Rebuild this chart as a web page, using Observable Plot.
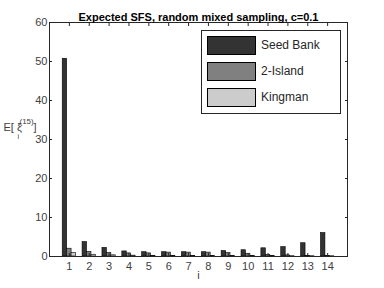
<!DOCTYPE html>
<html><head><meta charset="utf-8">
<script src="https://cdn.jsdelivr.net/npm/d3@7"></script>
<script src="https://cdn.jsdelivr.net/npm/@observablehq/plot@0.6"></script>
<style>
body{margin:0;background:#fff;}
#wrap{position:relative;width:384px;height:288px;font-family:"Liberation Sans",Arial,sans-serif;}
#legend{position:absolute;left:201px;top:30px;width:138px;height:82px;border:1px solid #262626;background:#fff;}
.item{position:absolute;left:5px;width:49px;height:19px;border:1px solid #000;box-sizing:border-box;}
.lab{position:absolute;left:59px;font-size:12px;color:#262626;line-height:19px;}
</style></head>
<body><div id="wrap"></div>
<script>
const categories = [1,2,3,4,5,6,7,8,9,10,11,12,13,14];
const seriesNames = ["Seed Bank","2-Island","Kingman"];
const seedBank = [50.7,3.7,2.2,1.3,1.1,1.1,1.1,1.1,1.4,1.6,2.1,2.4,3.4,6.0];
const island2 = [2.0,1.2,0.9,0.8,0.8,1.0,1.0,1.0,0.9,0.7,0.4,0.3,0.15,0.1];
const kingman = [0.9,0.45,0.3,0.22,0.18,0.15,0.13,0.11,0.1,0.09,0.08,0.075,0.07,0.065];
const yTicks = [0,10,20,30,40,50,60];
const colors = ["#333333","#808080","#cccccc"];

const seriesVals = [seedBank, island2, kingman];
const W = 0.223;
const rows = [];
seriesNames.forEach((s,k)=>categories.forEach((c,j)=>{
  const x1 = c + (k-1)*W - W/2;
  rows.push({s, c, v: seriesVals[k][j], x1, x2: x1 + W});
}));

const axisColor = "#262626";
const plot = Plot.plot({
  width:384, height:288,
  marginLeft:49, marginRight:37, marginTop:22, marginBottom:32,
  style:{fontFamily:"Liberation Sans, Arial, sans-serif", fontSize:"11px", color:axisColor, background:"#fff"},
  x:{type:"linear", domain:[0,15], ticks:categories, label:null},
  y:{domain:[0,60], ticks:yTicks, label:null},
  color:{domain:seriesNames, range:colors},
  marks:[
    Plot.rectY(rows,{x1:"x1",x2:"x2",y:"v",fill:"s",stroke:"#000",strokeWidth:0.6}),
    Plot.frame({stroke:axisColor}),
    Plot.axisX({anchor:"bottom", ticks:categories, tickSize:0, tickPadding:6, tickFormat:d=>d, fill:"#404040", fontSize:11}),
    Plot.axisY({anchor:"left", ticks:yTicks, tickSize:0, tickPadding:2, fill:"#404040", fontSize:11}),
    Plot.axisX({anchor:"bottom", ticks:categories, tickSize:3, tickFormat:()=>"", dy:-3, stroke:axisColor}),
    Plot.axisX({anchor:"top", ticks:categories, tickSize:3, tickFormat:()=>"", dy:3, stroke:axisColor}),
    Plot.axisY({anchor:"left", ticks:yTicks, tickSize:3, tickFormat:()=>"", dx:3, stroke:axisColor}),
    Plot.axisY({anchor:"right", ticks:yTicks, tickSize:3, tickFormat:()=>"", dx:-3, stroke:axisColor}),
    Plot.text(["Expected SFS, random mixed sampling, c=0.1"],{frameAnchor:"top", dy:-9, fontWeight:"bold", fontSize:11, fill:"#000"}),
    Plot.text(["i"],{frameAnchor:"bottom", dy:22, fontSize:11, fill:"#404040"}),
    Plot.text(["E[ ξ"],{frameAnchor:"left", dx:-46, dy:-12, textAnchor:"start", fontSize:11, fill:"#404040"}),
    Plot.text(["(15)"],{frameAnchor:"left", dx:-30, dy:-18, textAnchor:"start", fontSize:8, fill:"#404040"}),
    Plot.text(["i"],{frameAnchor:"left", dx:-32, dy:-3, textAnchor:"start", fontSize:7, fill:"#404040"}),
    Plot.text(["]"],{frameAnchor:"left", dx:-16, dy:-12, textAnchor:"start", fontSize:11, fill:"#404040"})
  ]
});
const wrap = document.getElementById("wrap");
wrap.appendChild(plot);
const lg = document.createElement("div"); lg.id="legend";
seriesNames.forEach((s,k)=>{
  const sw=document.createElement("div"); sw.className="item"; sw.style.top=(5+k*26)+"px"; sw.style.background=colors[k];
  const t=document.createElement("div"); t.className="lab"; t.style.top=(5+k*26)+"px"; t.textContent=s;
  lg.appendChild(sw); lg.appendChild(t);
});
wrap.appendChild(lg);
</script></body></html>
